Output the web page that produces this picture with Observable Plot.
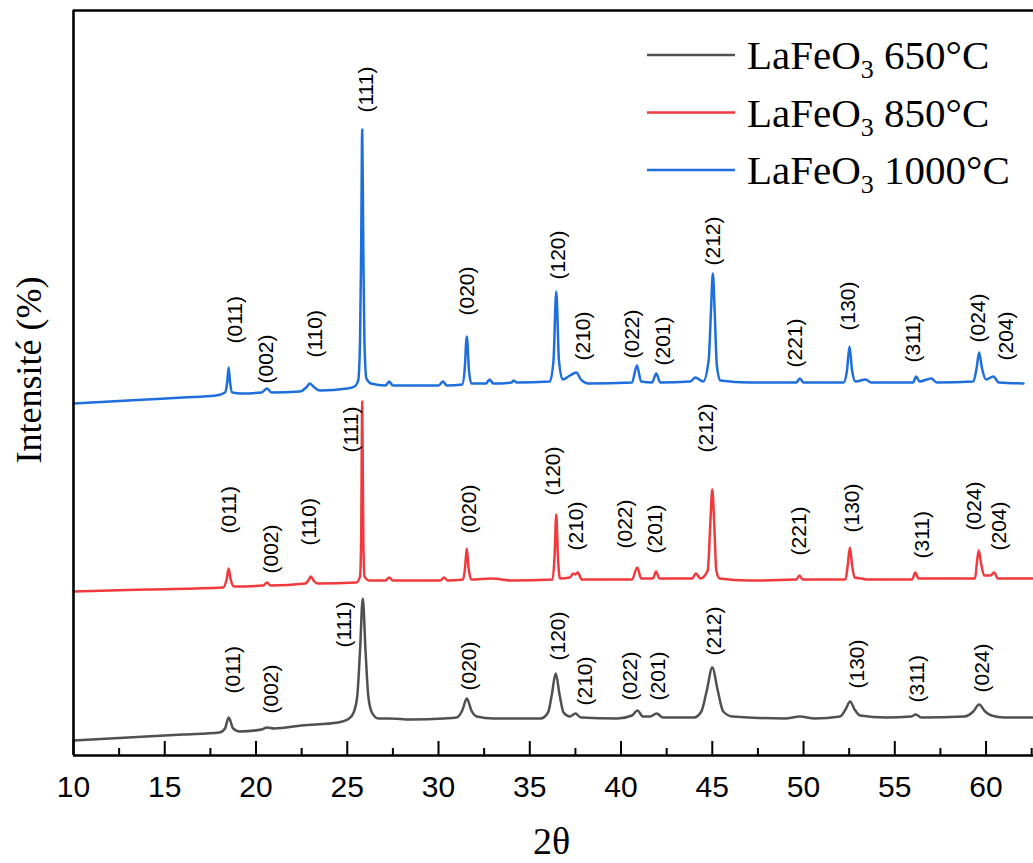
<!DOCTYPE html>
<html>
<head>
<meta charset="utf-8">
<script src="https://cdn.jsdelivr.net/npm/d3@7"></script>
<script src="https://cdn.jsdelivr.net/npm/@observablehq/plot@0.6"></script>
<style>
  html, body { margin: 0; padding: 0; background: #fff; }
  #chart { position: relative; width: 1033px; height: 863px; overflow: hidden; }
</style>
</head>
<body>
<div id="chart"></div>
<script>
// ---------- DATA (2θ in degrees, intensity in arbitrary units, curves already offset) ----------
const theta650 = [10,13,16,18.0,18.3,18.5,18.75,19.1,20.3,20.6,21.0,22.5,24.5,25.1,25.35,25.55,25.7,25.85,26.0,26.15,26.35,26.7,27.3,28.5,30.3,31.0,31.3,31.55,31.8,32.1,33.0,35.6,36.0,36.2,36.42,36.64,36.85,37.2,37.5,37.8,39.8,40.6,40.9,41.2,41.6,41.95,42.3,44.0,44.4,44.7,45.0,45.3,45.6,46.1,49.0,49.8,50.6,52.0,52.3,52.55,52.8,53.1,54.5,55.9,56.15,56.45,58.8,59.3,59.62,59.95,60.3,61.0,62.6];
const int650   = [15,18,21,23,27,38,27,24,26,28,27,30,33,37,43,60,105,157,105,60,43,37,37,36,37,38,45,57,45,39,37,37,43,60,82,60,43,39,42,38,37,40,45,39,39,42,38,38,44,65,88,65,44,39,37,39,37,39,46,54,46,40,38,39,41,38,39,44,51,44,40,38,38];

const theta850 = [10,14,18.2,18.4,18.5,18.6,18.8,20.4,20.6,20.8,22.7,22.9,23.0,23.15,23.4,25.5,25.7,25.76,25.82,25.88,25.95,26.2,27.1,27.3,27.5,30.1,30.3,30.5,31.35,31.45,31.55,31.65,31.8,32.9,34.0,36.25,36.36,36.45,36.54,36.65,37.2,37.38,37.5,37.63,37.85,40.6,40.89,41.1,41.75,41.92,42.1,43.9,44.1,44.35,44.75,44.9,45.0,45.1,45.22,45.4,47.0,49.6,49.78,49.95,52.3,52.42,52.54,52.66,52.8,53.2,53.5,55.95,56.12,56.3,57.0,59.4,59.5,59.6,59.72,59.9,60.25,60.44,60.65,62.6];
const int850   = [164,166,168,177,187,177,169,170,173,170,172,176,179,175,172,173,179,215,354,215,179,175,175,178,175,175,178,175,176,187,207,187,176,177,175,176,200,241,200,177,178,182,181,183,176,176,188,177,177,184,177,177,182,177,185,235,266,235,185,177,175,176,180,176,176,190,208,190,178,177,176,176,183,177,177,177,193,205,193,180,180,183,177,177];

const theta1000 = [10,14,16,17.8,18.3,18.42,18.5,18.58,18.7,19.2,20.3,20.6,20.85,22.4,22.75,22.95,23.2,23.5,25.0,25.4,25.6,25.7,25.76,25.82,25.88,25.94,26.05,26.3,27.1,27.3,27.5,30.0,30.25,30.45,31.3,31.43,31.55,31.67,31.8,32.6,32.8,33.0,34.0,34.1,34.3,36.1,36.3,36.45,36.6,36.8,37.2,37.55,37.8,38.2,40.6,40.87,41.1,41.7,41.93,42.15,43.8,44.07,44.5,44.8,44.93,45.03,45.13,45.25,45.45,47,49.6,49.8,50.0,52.2,52.38,52.52,52.66,52.85,53.4,53.7,56.0,56.17,56.35,57.0,57.3,59.3,59.48,59.62,59.78,60.0,60.4,60.7,62.05];
const int1000   = [352,356,358,360,363,373,388,373,363,362,363,367,363,364,368,372,368,365,367,369,375,415,505,626,505,415,377,372,370,374,370,370,374,370,371,385,419,385,372,372,376,372,373,375,373,374,395,464,395,376,380,383,376,372,373,390,374,373,382,373,374,378,374,395,445,482,445,390,375,373,373,377,373,373,385,409,385,374,376,373,373,379,374,377,373,374,387,403,387,376,379,373,372];

// peak labels: Miller index, label centre (2θ), label start height (intensity units)
const hkl650   = ["(011)","(002)","(111)","(020)","(120)","(210)","(022)","(201)","(212)","(130)","(311)","(024)"];
const lx650    = [18.73,20.82,24.83,31.68,36.56,38.03,40.5,42.04,45.1,52.94,56.21,59.78];
const ly650    = [62,42,108,65,95,50,55,55,100,67,53,63];

const hkl850   = ["(011)","(002)","(110)","(111)","(020)","(120)","(210)","(022)","(201)","(212)","(221)","(130)","(311)","(024)","(204)"];
const lx850    = [18.53,20.83,22.92,25.22,31.68,36.28,37.52,40.23,41.87,44.67,49.76,52.67,56.5,59.38,60.72];
const ly850    = [222,182,210,303,222,260,205,207,202,303,200,223,197,225,205];

const hkl1000  = ["(011)","(002)","(110)","(111)","(020)","(120)","(210)","(022)","(201)","(212)","(221)","(130)","(311)","(024)","(204)"];
const lx1000   = [18.86,20.56,23.24,26.04,31.57,36.56,37.93,40.62,42.32,45.05,49.55,52.45,56.02,59.6,61.11];
const ly1000   = [412,372,398,643,440,476,395,397,390,490,388,425,393,413,395];

const seriesTemps  = ["650°C", "850°C", "1000°C"];
const seriesColors = ["#505050", "#f03a3d", "#1e6fdc"];
const xDomain = [10, 62.6];
const yDomain = [0, 745];
const majorTicks = [10, 15, 20, 25, 30, 35, 40, 45, 50, 55, 60];
const minorTicks = [12.5, 17.5, 22.5, 27.5, 32.5, 37.5, 42.5, 47.5, 52.5, 57.5, 62.5];
const xLabel = "2θ";
const yLabel = "Intensité (%)";

// ---------- build tables ----------
const toRows = (th, it) => th.map((t, i) => ({theta: t, I: it[i]}));
const toLabels = (h, x, y) => h.map((t, i) => ({hkl: t, x: x[i], y: y[i]}));
const rows = [toRows(theta650, int650), toRows(theta850, int850), toRows(theta1000, int1000)];
const labels = [toLabels(hkl650, lx650, ly650), toLabels(hkl850, lx850, ly850), toLabels(hkl1000, lx1000, ly1000)];

const sans = "'Liberation Sans', Arial, sans-serif";
const serif = "'Liberation Serif', 'Times New Roman', serif";

const chart = Plot.plot({
  width: 1033,
  height: 863,
  marginLeft: 73,
  marginRight: 0,
  marginTop: 10,
  marginBottom: 108,
  style: {fontFamily: sans, background: "white", color: "black"},
  x: {domain: xDomain},
  y: {domain: yDomain, axis: null},
  marks: [
    ...rows.map((r, k) => Plot.line(r, {x: "theta", y: "I", stroke: seriesColors[k], strokeWidth: 2.5, curve: "monotone-x"})),
    ...labels.map((l) => Plot.text(l, {x: "x", y: "y", text: "hkl", rotate: -90, textAnchor: "start", fontSize: 21, fill: "black", fontFamily: sans})),
    Plot.axisX({ticks: minorTicks, tickSize: -7, text: null, label: null, strokeWidth: 2}),
    Plot.axisX({ticks: majorTicks, tickSize: -14, tickPadding: 34, fontSize: 30, label: null, strokeWidth: 2, tickFormat: (d) => String(d)}),
    Plot.ruleY([yDomain[0]], {strokeWidth: 2.6}),
    Plot.ruleY([yDomain[1]], {strokeWidth: 2.6}),
    Plot.ruleX([xDomain[0]], {strokeWidth: 2.6}),
    Plot.text([yLabel], {frameAnchor: "left", textAnchor: "middle", lineAnchor: "middle", rotate: -90, dx: -44, dy: -13, fontFamily: serif, fontSize: 36, fill: "black"}),
    Plot.text([xLabel], {frameAnchor: "bottom", textAnchor: "middle", lineAnchor: "middle", dy: 86, dx: -2, fontFamily: serif, fontSize: 38, fill: "black"})
  ]
});

// ---------- legend (inside the plot, top right) ----------
const svg = d3.select(chart);
const lg = svg.append("g").attr("font-family", serif).attr("font-size", 41).attr("fill", "black").attr("text-anchor", "start");
seriesTemps.forEach((t, i) => {
  const yc = 55 + 57.5 * i;
  lg.append("line").attr("x1", 647).attr("x2", 735).attr("y1", yc).attr("y2", yc)
    .attr("stroke", seriesColors[i]).attr("stroke-width", 2.6);
  const tx = lg.append("text").attr("x", 747).attr("y", yc + 14).attr("text-anchor", "start");
  tx.append("tspan").text("LaFeO");
  tx.append("tspan").attr("font-size", 26).attr("dy", 9).text("3");
  tx.append("tspan").attr("dy", -9).text(" " + t);
});

document.getElementById("chart").appendChild(chart);
</script>
</body>
</html>
